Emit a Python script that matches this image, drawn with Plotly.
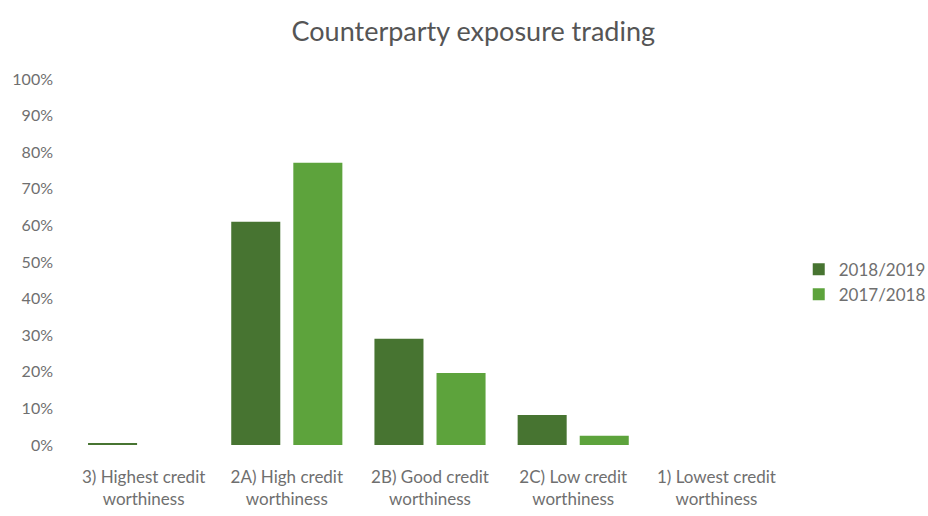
import plotly.graph_objects as go

categories = ["3) Highest credit<br>worthiness", "2A) High credit<br>worthiness",
              "2B) Good credit<br>worthiness", "2C) Low credit<br>worthiness",
              "1) Lowest credit<br>worthiness"]
series_2018_2019 = [0.005, 0.61, 0.29, 0.082, 0.0]
series_2017_2018 = [0.0, 0.771, 0.197, 0.025, 0.0]
y_ticks = [0, 0.1, 0.2, 0.3, 0.4, 0.5, 0.6, 0.7, 0.8, 0.9, 1.0]

FONT = "Lato"
GRAY = "#6f6f6f"

fig = go.Figure()
fig.add_trace(go.Bar(x=categories, y=series_2018_2019, name="2018/2019",
                     marker=dict(color="#477431", line=dict(width=0))))
fig.add_trace(go.Bar(x=categories, y=series_2017_2018, name="2017/2018",
                     marker=dict(color="#5da33c", line=dict(width=0))))

fig.update_layout(
    width=928, height=516,
    margin=dict(l=72, r=140, t=79, b=71, autoexpand=False),
    paper_bgcolor="white", plot_bgcolor="white",
    barmode="group", bargap=0.133, bargroupgap=0.21,
    title=dict(text="Counterparty exposure trading", x=0.51, xanchor="center",
               y=0.938, yanchor="middle",
               font=dict(family=FONT, size=27, color="#555555")),
    font=dict(family=FONT, color=GRAY, size=16),
    legend=dict(x=1.015, y=0.445, xanchor="left", yanchor="middle",
                font=dict(family=FONT, size=17, color=GRAY),
                tracegroupgap=0, itemwidth=30),
    showlegend=True,
)
fig.update_yaxes(range=[0, 1], tickvals=y_ticks, tickformat=".0%",
                 showgrid=False, zeroline=False, showline=False,
                 tickfont=dict(family=FONT, size=16, color=GRAY),
                 ticklabelstandoff=18)
fig.update_xaxes(showgrid=False, showline=False, zeroline=False,
                 tickfont=dict(family=FONT, size=17, color=GRAY),
                 ticklabelstandoff=20)

fig.write_html("out.html")
